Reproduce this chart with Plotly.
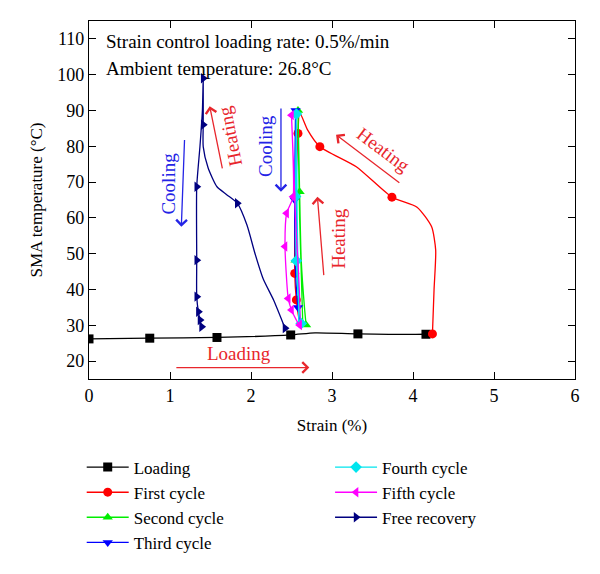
import plotly.graph_objects as go

# ---- data ----
load_x = [0.0, 0.75, 1.58, 2.49, 2.79, 3.32, 4.16, 4.22]
load_y = [26.2, 26.4, 26.6, 27.3, 27.9, 27.6, 27.5, 27.6]
load_mx = [0.0, 0.75, 1.58, 2.49, 3.32, 4.16]
load_my = [26.2, 26.4, 26.6, 27.3, 27.6, 27.5]

c1_x = [4.24, 4.26, 4.28, 4.23, 4.05, 3.74, 3.30, 2.85, 2.70, 2.60, 2.58, 2.55, 2.54, 2.56, 2.60, 2.62]
c1_y = [27.6, 40.0, 51.0, 57.5, 63.0, 65.8, 74.3, 79.9, 84.5, 89.5, 83.6, 65.0, 44.5, 37.1, 31.0, 29.6]
c1_mx = [4.24, 3.74, 2.85, 2.58, 2.54, 2.56]
c1_my = [27.6, 65.8, 79.9, 83.6, 44.5, 37.1]

c2_x = [2.64, 2.60, 2.58, 2.60, 2.62, 2.66, 2.68]
c2_y = [30.0, 60.0, 90.0, 67.3, 48.2, 35.0, 30.1]
c2_mx = [2.58, 2.60, 2.55, 2.68]
c2_my = [90.0, 67.3, 48.2, 30.1]

c3_x = [2.60, 2.56, 2.55, 2.54, 2.55, 2.58, 2.62]
c3_y = [30.5, 60.0, 90.0, 65.0, 45.0, 35.0, 30.0]
c3_mx = [2.55, 2.54, 2.58]
c3_my = [90.0, 65.0, 35.0]

c4_x = [2.59, 2.57, 2.56, 2.55, 2.56, 2.59, 2.62]
c4_y = [30.5, 60.0, 89.0, 66.0, 48.0, 36.0, 30.5]
c4_mx = [2.56, 2.55, 2.56, 2.62]
c4_my = [89.0, 66.0, 48.0, 30.5]

c5_x = [2.60, 2.55, 2.50, 2.52, 2.44, 2.42, 2.46, 2.50, 2.60]
c5_y = [30.1, 60.0, 88.7, 65.9, 61.3, 52.0, 37.5, 34.3, 30.1]
c5_mx = [2.50, 2.52, 2.44, 2.42, 2.46, 2.50, 2.60]
c5_my = [88.7, 65.9, 61.3, 52.0, 37.5, 34.3, 30.1]

fr_x = [2.42, 2.28, 2.15, 2.05, 1.95, 1.83, 1.70, 1.58, 1.47, 1.41, 1.41, 1.41, 1.40, 1.37, 1.33, 1.33, 1.33, 1.35, 1.37, 1.39]
fr_y = [29.2, 37.0, 43.0, 50.0, 58.0, 64.1, 66.5, 68.7, 74.0, 79.9, 86.0, 99.0, 90.0, 80.0, 68.7, 48.2, 38.0, 33.8, 31.5, 29.6]
fr_mx = [2.42, 1.83, 1.41, 1.41, 1.33, 1.33, 1.33, 1.35, 1.37, 1.39]
fr_my = [29.2, 64.1, 86.0, 99.0, 68.7, 48.2, 38.0, 33.8, 31.5, 29.6]

series = [
    ("Loading", "#000000", "square", load_x, load_y, load_mx, load_my, "legend"),
    ("First cycle", "#ff0000", "circle", c1_x, c1_y, c1_mx, c1_my, "legend"),
    ("Second cycle", "#00ee00", "triangle-up", c2_x, c2_y, c2_mx, c2_my, "legend"),
    ("Third cycle", "#0000ff", "triangle-down", c3_x, c3_y, c3_mx, c3_my, "legend"),
    ("Fourth cycle", "#00e5ee", "diamond", c4_x, c4_y, c4_mx, c4_my, "legend2"),
    ("Fifth cycle", "#ff00ff", "triangle-left", c5_x, c5_y, c5_mx, c5_my, "legend2"),
    ("Free recovery", "#000080", "triangle-right", fr_x, fr_y, fr_mx, fr_my, "legend2"),
]

FONT = "Liberation Serif"
fig = go.Figure()
for name, col, sym, x, y, mx, my, lg in series:
    fig.add_trace(go.Scatter(x=x, y=y, mode="lines", line=dict(color=col, width=1.3, shape="spline", smoothing=0.6),
                             showlegend=False, hoverinfo="skip"))
    fig.add_trace(go.Scatter(x=mx, y=my, mode="markers", marker=dict(color=col, symbol=sym, size=9),
                             showlegend=False))
    fig.add_trace(go.Scatter(x=[None], y=[None], mode="lines+markers", name=name, legend=lg,
                             line=dict(color=col, width=1.4), marker=dict(color=col, symbol=sym, size=9)))

RED = "#e8262c"
BLUE = "#2424e6"
arrows = [
    (1.06, 18.2, 2.72, 18.2, RED),
    (3.85, 69.5, 3.05, 83.2, RED),
    (2.90, 43.6, 2.82, 65.9, RED),
    (2.37, 91.0, 2.37, 67.3, BLUE),
    (1.18, 82.2, 1.14, 57.5, BLUE),
    (1.65, 73.4, 1.49, 91.2, RED),
]
for x0, y0, x1, y1, col in arrows:
    fig.add_annotation(x=x1, y=y1, ax=x0, ay=y0, xref="x", yref="y", axref="x", ayref="y",
                       text="", showarrow=True, arrowhead=4, arrowsize=1.6, arrowwidth=1.3, arrowcolor=col)

labels = [
    ("Loading", 1.85, 22.0, 0, RED),
    ("Heating", 3.63, 79.0, 37, RED),
    ("Heating", 3.08, 54.3, -90, RED),
    ("Cooling", 2.18, 80.0, -90, BLUE),
    ("Cooling", 0.98, 69.7, -90, BLUE),
    ("Heating", 1.74, 83.0, -101, RED),
]
for t, x, y, ang, col in labels:
    fig.add_annotation(x=x, y=y, xref="x", yref="y", text=t, showarrow=False, textangle=ang,
                       font=dict(family=FONT, size=19, color=col))

fig.add_annotation(x=0.18, y=109.3, xref="x", yref="y", xanchor="left", text="Strain control loading rate: 0.5%/min",
                   showarrow=False, font=dict(family=FONT, size=19, color="black"))
fig.add_annotation(x=0.18, y=101.7, xref="x", yref="y", xanchor="left", text="Ambient temperature: 26.8°C",
                   showarrow=False, font=dict(family=FONT, size=19, color="black"))

axis_common = dict(showline=True, linecolor="black", linewidth=1.3, mirror="ticks", ticks="inside",
                   ticklen=7, tickcolor="black", tickwidth=1.2, showgrid=False, zeroline=False,
                   tickfont=dict(family=FONT, size=18, color="black"), automargin=False)
fig.update_xaxes(range=[0, 6], dtick=1, title=dict(text="Strain (%)", font=dict(family=FONT, size=17, color="black"), standoff=14),
                 **axis_common)
fig.update_yaxes(range=[15, 115], dtick=10, tick0=0, title=dict(text="SMA temperature (°C)", font=dict(family=FONT, size=17, color="black"), standoff=10),
                 **axis_common)

legend_common = dict(font=dict(family=FONT, size=17, color="black"), bgcolor="rgba(0,0,0,0)",
                     xanchor="left", yanchor="top", tracegroupgap=0, itemwidth=42)
# page body has an 8px default margin: shift figure geometry accordingly
fig.update_layout(
    width=592, height=566,
    margin=dict(l=81, r=25, t=13, b=195),
    plot_bgcolor="white", paper_bgcolor="white",
    legend=dict(x=-0.015, y=-0.197, **legend_common),
    legend2=dict(x=0.496, y=-0.197, **legend_common),
)
fig.write_html("out.html")
